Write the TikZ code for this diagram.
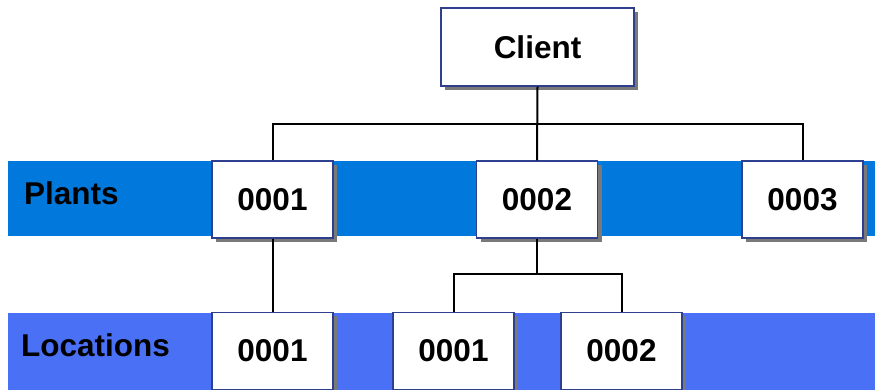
\documentclass[tikz,border=0pt]{standalone}
\usepackage{fontspec}
\setmainfont{Liberation Sans}
\usetikzlibrary{shadows}
\definecolor{plantblue}{RGB}{0,120,220}
\definecolor{locblue}{RGB}{74,112,245}
\definecolor{boxedge}{RGB}{46,63,143}
\tikzset{
  orgbox/.style={draw=boxedge, line width=1.2pt, fill=white, minimum width=121pt,
    minimum height=77pt, inner sep=0pt, font=\fontsize{31.5}{38}\selectfont\bfseries,
    drop shadow={shadow xshift=4pt, shadow yshift=-4pt, fill=gray!95!black, opacity=1}},
  rowlabel/.style={anchor=west, inner sep=0pt, font=\fontsize{31.5}{38}\selectfont\bfseries},
  link/.style={line width=2pt}
}
\begin{document}
\begin{tikzpicture}[x=1pt,y=1pt]
\useasboundingbox (0,0) rectangle (875,390);
% bands
\fill[plantblue] (8,154) rectangle (875,229);
\fill[locblue] (8,0) rectangle (875,77);
\node[rowlabel] (plants) at (24,197) {Plants};
\node[rowlabel] (locations) at (21,45) {Locations};
% client and plants
\node[orgbox, minimum width=193pt, minimum height=78pt] (client) at (537.5,343) {Client};
\node[orgbox] (p1) at (272.5,190.5) {0001};
\node[orgbox] (p2) at (537,190.5) {0002};
\node[orgbox] (p3) at (802.5,190.5) {0003};
% locations
\node[orgbox] (l1) at (272.5,39) {0001};
\node[orgbox] (l2) at (453.5,39) {0001};
\node[orgbox] (l3) at (621.5,39) {0002};
% lines
\coordinate (bus) at (537,266);
\coordinate (sub) at (537,116);
\draw[link] (client.south) -- (p2.north);
\draw[link] (p1.north) |- (bus) -| (p3.north);
\draw[link] (p1.south) -- (l1.north);
\draw[link] (p2.south) -- (sub);
\draw[link] (l2.north) |- (sub) -| (l3.north);
\end{tikzpicture}
\end{document}
